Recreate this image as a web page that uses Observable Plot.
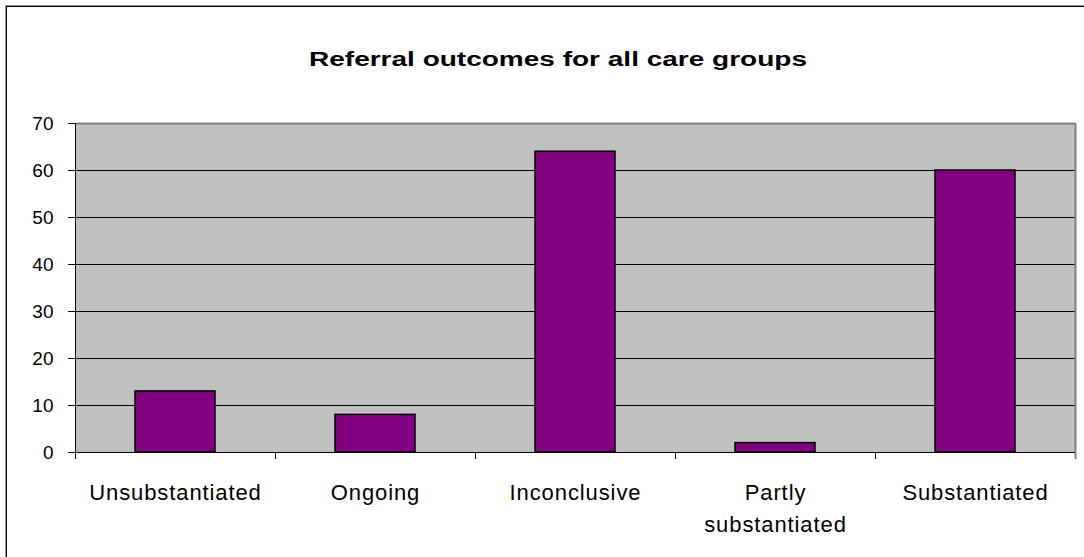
<!DOCTYPE html>
<html><head><meta charset="utf-8">
<script src="https://cdn.jsdelivr.net/npm/d3@7"></script>
<script src="https://cdn.jsdelivr.net/npm/@observablehq/plot@0.6"></script>
<style>
body{margin:0;background:#fff;overflow:hidden;font-family:Arial,"Liberation Sans",sans-serif}
#wrap{position:relative;width:1084px;height:557px;overflow:hidden;background:#fff}
#border{position:absolute;left:6px;top:6px;width:2000px;height:2000px;border-left:1px solid #000;border-top:1px solid #000;box-shadow:-1px -1px 0 #999}
#title{position:absolute;left:558px;top:49px;font-size:20px;line-height:20px;font-weight:bold;white-space:nowrap;color:#000;transform:translateX(-50%) scaleX(1.4);transform-origin:center}
#chart{position:absolute;left:0;top:90px}
g[aria-label="x-axis tick label"] text{letter-spacing:0.9px}
</style>
</head><body>
<div id="wrap"><div id="border"></div><div id="title"></div><div id="chart"></div></div>
<script>
const title = "Referral outcomes for all care groups";
const categories = ["Unsubstantiated", "Ongoing", "Inconclusive", "Partly substantiated", "Substantiated"];
const tickLabels = ["Unsubstantiated", "Ongoing", "Inconclusive", "Partly\nsubstantiated", "Substantiated"];
const values = [13, 8, 64, 2, 60];
const yTicks = [0, 10, 20, 30, 40, 50, 60, 70];

document.getElementById("title").textContent = title;
const data = categories.map((c, i) => ({category: c, value: values[i]}));
const labelOf = new Map(categories.map((c, i) => [c, tickLabels[i]]));
const last = categories[categories.length - 1];

const chart = Plot.plot({
  width: 1084,
  height: 467,
  marginTop: 33,
  marginBottom: 105,
  marginLeft: 75,
  marginRight: 9,
  style: {fontFamily: "Arial, 'Liberation Sans', sans-serif", color: "#000", background: "transparent", overflow: "visible"},
  x: {domain: categories, paddingInner: 0.6, paddingOuter: 0.3},
  y: {domain: [0, 70]},
  marks: [
    Plot.frame({fill: "#c0c0c0", stroke: null}),
    Plot.ruleY(yTicks.filter(t => t > 0 && t < 70), {stroke: "#000", strokeWidth: 1}),
    Plot.ruleY([70], {stroke: "#808080", strokeWidth: 2}),
    Plot.ruleX([last], {x: d => d, dx: 100, y1: -1.5, y2: 70, stroke: "#808080", strokeWidth: 2}),
    Plot.barY(data, {x: "category", y: "value", fill: "#800080", stroke: "#000", strokeWidth: 1.5}),
    Plot.ruleY([0], {stroke: "#000", strokeWidth: 1}),
    Plot.ruleX([categories[0]], {x: d => d, dx: -100, y1: -1.5, y2: 70, stroke: "#000", strokeWidth: 1}),
    Plot.ruleX(categories.slice(1), {x: d => d, dx: -100, y1: 0, y2: -1.5, stroke: "#000", strokeWidth: 1}),
    Plot.axisY({ticks: yTicks, tickSize: 7, tickPadding: 15, fontSize: 19, label: null, stroke: "#000"}),
    Plot.axisX({tickSize: 0, tickPadding: 25, fontSize: 22, lineHeight: 1.45, label: null, tickFormat: d => labelOf.get(d)})
  ]
});
document.getElementById("chart").appendChild(chart);
</script>
</body></html>
